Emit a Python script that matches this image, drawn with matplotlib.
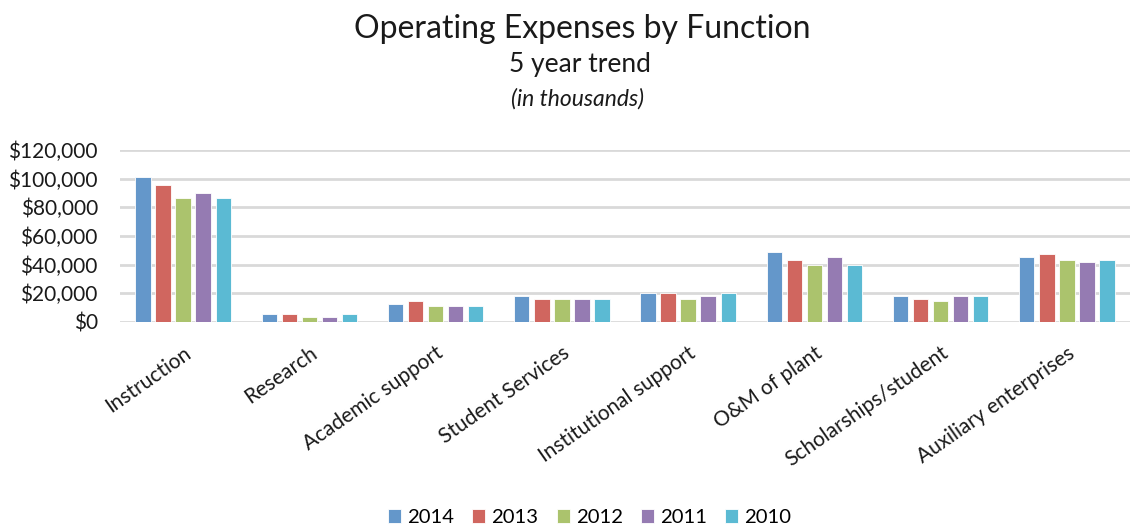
import matplotlib
matplotlib.use('Agg')
import matplotlib.pyplot as plt
import numpy as np
from matplotlib.ticker import FuncFormatter

plt.rcParams['font.family'] = ['Lato', 'DejaVu Sans']

categories = ['Instruction', 'Research', 'Academic support', 'Student Services',
              'Institutional support', 'O&M of plant', 'Scholarships/student',
              'Auxiliary enterprises']
years = ['2014', '2013', '2012', '2011', '2010']

# values in thousands of dollars
v2014 = [101000, 5300, 12600, 18300, 20000, 49000, 18300, 45500]
v2013 = [95500, 5300, 14500, 16300, 20000, 43600, 16300, 47200]
v2012 = [86500, 3700, 11000, 16300, 16300, 40000, 14600, 43600]
v2011 = [90300, 3700, 11000, 16300, 18300, 45500, 18300, 41700]
v2010 = [86500, 5300, 11000, 16300, 20000, 40000, 18300, 43600]
series = [v2014, v2013, v2012, v2011, v2010]

colors = ['#6497CA', '#D0665F', '#ABC36D', '#957BB2', '#5BBAD3']

fig = plt.figure(figsize=(11.32, 5.27), dpi=100)
ax = fig.add_axes([120 / 1132, 1 - 322 / 527, 1010 / 1132, 172 / 527])

x = np.arange(len(categories))
step = 0.159
width = 0.122
for i, (vals, c, yr) in enumerate(zip(series, colors, years)):
    ax.bar(x + (i - 2) * step, vals, width, color=c, label=yr,
           edgecolor='white', linewidth=0.6, zorder=3)

ax.set_xlim(-0.5, len(categories) - 0.5)
ax.set_ylim(0, 120000)
ax.set_yticks(range(0, 120001, 20000))
ax.yaxis.set_major_formatter(FuncFormatter(lambda v, p: '${:,.0f}'.format(v)))
ax.grid(axis='y', color='#D9D9D9', linewidth=2, zorder=0)
ax.tick_params(axis='y', length=0, labelsize=15, pad=16, colors='#1a1a1a')
ax.tick_params(axis='x', length=0, labelsize=15, pad=15, colors='#1a1a1a')
for s in ax.spines.values():
    s.set_visible(False)
ax.set_xticks(x)
ax.set_xticklabels(categories, rotation=35, ha='right', rotation_mode='anchor')

fig.text(0.514, 0.945, 'Operating Expenses by Function', ha='center', va='center',
         fontsize=23, color='#1a1a1a')
fig.text(0.512, 0.878, '5 year trend', ha='center', va='center', fontsize=19,
         color='#1a1a1a')
fig.text(0.510, 0.812, '(in thousands)', ha='center', va='center', fontsize=16.5,
         style='italic', color='#1a1a1a')

fig.legend(loc='center', bbox_to_anchor=(0.521, 0.018), ncol=5, frameon=False,
           fontsize=14.6, handlelength=0.64, handleheight=0.64, handletextpad=0.3,
           columnspacing=0.9)

fig.savefig('out.png', dpi=100, facecolor='w')
